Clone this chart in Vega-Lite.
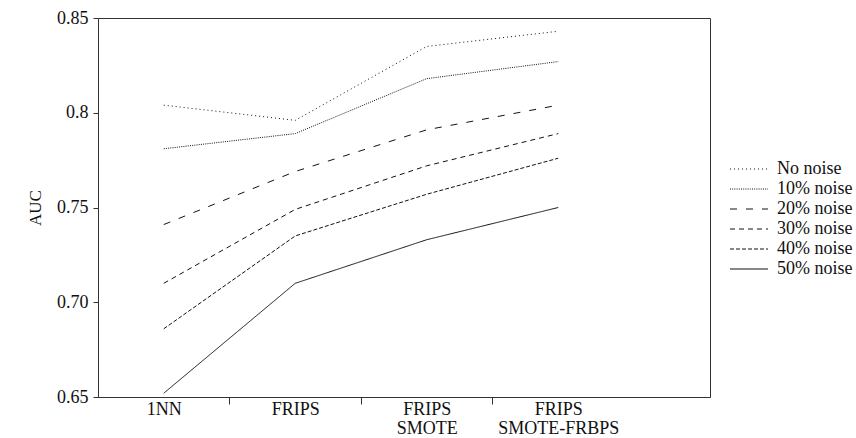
{
  "$schema": "https://vega.github.io/schema/vega-lite/v6.json",
  "autosize": {"type": "none"},
  "padding": {"left": 98, "top": 18, "right": 146, "bottom": 41},
  "width": 612,
  "height": 379,
  "background": "white",
  "config": {
    "font": "Liberation Serif",
    "view": {"stroke": "#333", "strokeWidth": 1},
    "axis": {"labelFont": "Liberation Serif", "titleFont": "Liberation Serif", "labelFontSize": 18, "titleFontSize": 17, "titleFontWeight": "normal", "labelColor": "#111", "titleColor": "#111", "domainColor": "#333", "tickColor": "#333", "grid": false}
  },
  "data": {
    "values": [
      {"series": "No noise", "step": 1, "method": "1NN", "auc": 0.804},
      {"series": "No noise", "step": 2, "method": "FRIPS", "auc": 0.796},
      {"series": "No noise", "step": 3, "method": "FRIPS SMOTE", "auc": 0.835},
      {"series": "No noise", "step": 4, "method": "FRIPS SMOTE-FRBPS", "auc": 0.843},
      {"series": "10% noise", "step": 1, "method": "1NN", "auc": 0.781},
      {"series": "10% noise", "step": 2, "method": "FRIPS", "auc": 0.789},
      {"series": "10% noise", "step": 3, "method": "FRIPS SMOTE", "auc": 0.818},
      {"series": "10% noise", "step": 4, "method": "FRIPS SMOTE-FRBPS", "auc": 0.827},
      {"series": "20% noise", "step": 1, "method": "1NN", "auc": 0.741},
      {"series": "20% noise", "step": 2, "method": "FRIPS", "auc": 0.769},
      {"series": "20% noise", "step": 3, "method": "FRIPS SMOTE", "auc": 0.791},
      {"series": "20% noise", "step": 4, "method": "FRIPS SMOTE-FRBPS", "auc": 0.804},
      {"series": "30% noise", "step": 1, "method": "1NN", "auc": 0.710},
      {"series": "30% noise", "step": 2, "method": "FRIPS", "auc": 0.749},
      {"series": "30% noise", "step": 3, "method": "FRIPS SMOTE", "auc": 0.772},
      {"series": "30% noise", "step": 4, "method": "FRIPS SMOTE-FRBPS", "auc": 0.789},
      {"series": "40% noise", "step": 1, "method": "1NN", "auc": 0.686},
      {"series": "40% noise", "step": 2, "method": "FRIPS", "auc": 0.735},
      {"series": "40% noise", "step": 3, "method": "FRIPS SMOTE", "auc": 0.757},
      {"series": "40% noise", "step": 4, "method": "FRIPS SMOTE-FRBPS", "auc": 0.776},
      {"series": "50% noise", "step": 1, "method": "1NN", "auc": 0.652},
      {"series": "50% noise", "step": 2, "method": "FRIPS", "auc": 0.710},
      {"series": "50% noise", "step": 3, "method": "FRIPS SMOTE", "auc": 0.733},
      {"series": "50% noise", "step": 4, "method": "FRIPS SMOTE-FRBPS", "auc": 0.750}
    ]
  },
  "layer": [
    {
      "mark": {"type": "line", "color": "#111", "strokeWidth": 1},
      "encoding": {
        "x": {"field": "step", "type": "quantitative", "scale": {"domain": [0.5, 5.154], "nice": false, "zero": false},
              "axis": {"orient": "bottom", "values": [1.5, 2.5, 3.5], "labels": false, "tickSize": 7, "title": null, "domain": true}},
        "y": {"field": "auc", "type": "quantitative", "scale": {"domain": [0.65, 0.85], "nice": false, "zero": false},
              "axis": {"values": [0.65, 0.7, 0.75, 0.8, 0.85], "labelExpr": "datum.value >= 0.799 ? format(datum.value, '.2~f') : format(datum.value, '.2f')", "tickSize": 5, "labelPadding": 5, "title": "AUC", "titlePadding": 12}},
        "strokeDash": {"field": "series", "type": "nominal",
          "scale": {"domain": ["No noise", "10% noise", "20% noise", "30% noise", "40% noise", "50% noise"],
                    "range": [[1, 3], [1, 1.2], [7, 9], [5, 4], [4, 2], [1, 0]]},
          "legend": {"title": null, "orient": "none", "legendX": 641, "legendY": 141, "symbolType": "M-2,0H2", "symbolSize": 361, "symbolStrokeWidth": 1, "symbolStrokeColor": "#111", "symbolFillColor": "transparent", "labelFontSize": 18, "labelFont": "Liberation Serif", "labelColor": "#111", "rowPadding": 1, "labelOffset": 18}}
      }
    },
    {
      "mark": {"type": "point", "opacity": 0},
      "encoding": {
        "x": {"field": "step", "type": "quantitative",
              "axis": {"orient": "bottom", "values": [1, 2, 3, 4], "ticks": false, "domain": false, "title": null, "labelPadding": 3, "labelLineHeight": 19,
                       "labelExpr": "datum.value == 1 ? '1NN' : datum.value == 2 ? 'FRIPS' : datum.value == 3 ? ['FRIPS', 'SMOTE'] : ['FRIPS', 'SMOTE-FRBPS']"}},
        "y": {"field": "auc", "type": "quantitative"}
      }
    }
  ],
  "resolve": {"axis": {"x": "independent"}}
}
